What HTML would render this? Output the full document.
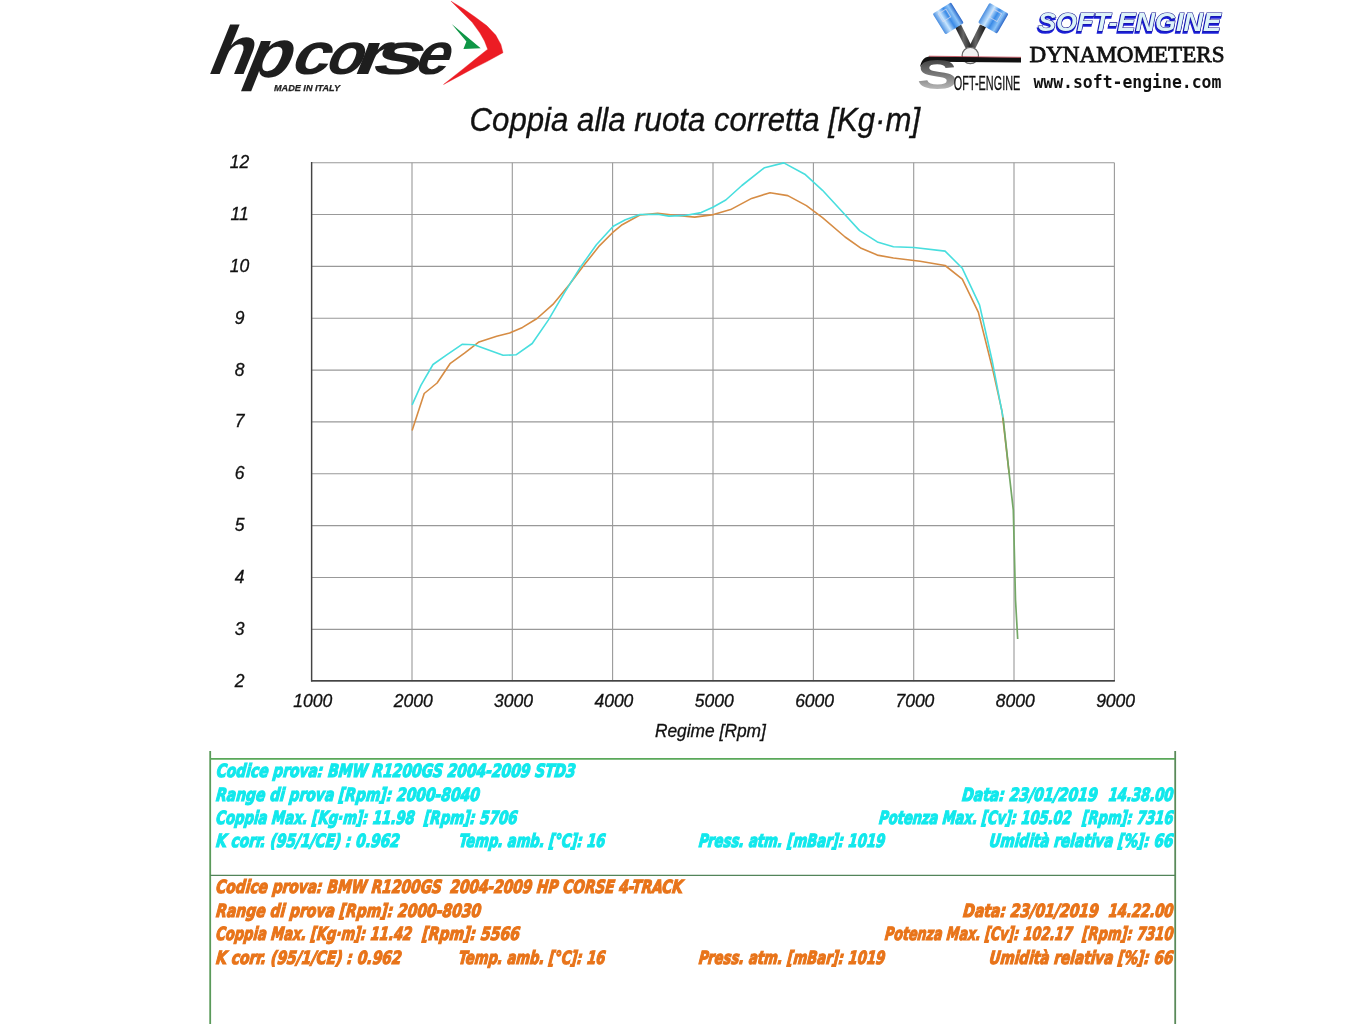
<!DOCTYPE html>
<html><head><meta charset="utf-8">
<style>
html,body{margin:0;padding:0;background:#fff;}
body{width:1365px;height:1024px;overflow:hidden;position:relative;}
svg{position:absolute;left:0;top:0;}
.ax{font-family:"Liberation Sans",Arial,sans-serif;font-style:italic;font-size:17.5px;fill:#111;stroke:#111;stroke-width:0.3px;text-anchor:middle;}
.ib{font-family:"DejaVu Sans",sans-serif;font-stretch:condensed;font-style:italic;font-weight:bold;font-size:18.2px;stroke-width:1.15px;}
.c{fill:#12e8ec;stroke:#12e8ec;}
.o{fill:#e8741a;stroke:#e8741a;}
</style></head>
<body>
<svg width="1365" height="1024" viewBox="0 0 1365 1024">
<defs>
<linearGradient id="pist" x1="0" y1="0" x2="1" y2="0">
<stop offset="0" stop-color="#4a8ee0"/><stop offset="0.3" stop-color="#c8e6ff"/><stop offset="0.55" stop-color="#3a8ae6"/><stop offset="0.8" stop-color="#8cc4f8"/><stop offset="1" stop-color="#2a66c8"/>
</linearGradient>
<linearGradient id="sgrad" x1="0" y1="0" x2="0" y2="1">
<stop offset="0" stop-color="#222"/><stop offset="0.5" stop-color="#777"/><stop offset="1" stop-color="#ddd"/>
</linearGradient>
<linearGradient id="rod" x1="0" y1="0" x2="1" y2="0">
<stop offset="0" stop-color="#111"/><stop offset="0.45" stop-color="#666"/><stop offset="1" stop-color="#111"/>
</linearGradient>
</defs>

<!-- hp corse logo -->
<g id="hpcorse">
<g style="font-family:'Liberation Sans',Arial,sans-serif;font-weight:bold;font-size:62px;fill:#1e1e1e;"><text x="0" y="0" transform="translate(205.2,73.8) skewX(-22) scale(1.127,1.1)">h</text><text x="0" y="0" transform="translate(241.6,76.8) skewX(-22) scale(1.2,1.1)">p</text><text x="0" y="0" transform="translate(288.2,73.8) skewX(-22) scale(1.1,0.95)">c</text><text x="0" y="0" transform="translate(322.4,73.8) skewX(-22) scale(0.976,0.95)">o</text><text x="0" y="0" transform="translate(350.8,73.8) skewX(-22) scale(1.36,0.95)">r</text><text x="0" y="0" transform="translate(368.7,73.8) skewX(-22) scale(1.454,0.95)">s</text><text x="0" y="0" transform="translate(411.8,73.8) skewX(-22) scale(0.983,0.95)">e</text></g>
<text x="274" y="90.8" style="font-family:'Liberation Sans',Arial,sans-serif;font-weight:bold;font-style:italic;font-size:9px;fill:#222;stroke:#222;stroke-width:0.25px;" textLength="66" lengthAdjust="spacingAndGlyphs">MADE IN ITALY</text>
<path d="M451.1,1.2 L463.4,8.8 L475.1,17 L486.9,25.8 L495.7,35.1 L500.9,44.5 L503,52.7 L486.9,61.6 L475.1,67.5 L457.6,76.9 L443.5,84.5 L463.4,68.7 L475.1,59.3 L487.7,49.2 L484.5,41 L479.8,32.8 L472.2,22.3 L463.4,13.5 Z" fill="#ec1c24" stroke="#ec1c24" stroke-width="0.4" stroke-linejoin="round"/>
<path d="M451.7,24 L480.7,48.3 L463.4,48.9 L466.4,41.6 Z" fill="#0f9646"/>
</g>

<!-- soft-engine logo -->
<g id="soft">
<path d="M955,27 L966.5,50 L973.5,50 L961,24.5 Z" fill="url(#rod)"/>
<path d="M986,27 L974.5,50 L967.5,50 L980,24.5 Z" fill="url(#rod)"/>
<g transform="translate(948.2,18.4) rotate(-32)"><rect x="-10.8" y="-12.2" width="21.6" height="24.4" rx="1.5" fill="url(#pist)"/><rect x="-6" y="-9" width="9" height="9" fill="none" stroke="#dde" stroke-width="1" opacity="0.7"/></g>
<g transform="translate(993.3,18.2) rotate(30)"><rect x="-11" y="-11.5" width="22" height="23" rx="1.5" fill="url(#pist)"/><rect x="-4" y="-8" width="9" height="9" fill="none" stroke="#dde" stroke-width="1" opacity="0.7"/></g>
<circle cx="970.3" cy="55.5" r="8.2" fill="#f2f2f2" stroke="#666" stroke-width="1.2"/>
<path d="M929,56.4 L1021,57.6 L1021,62.6 L931,61.8 C926,62 922,64 920,67 C921,61 924,57 929,56.4 Z" fill="#111"/>
<line x1="929" y1="56.2" x2="1021" y2="57.3" stroke="#c03040" stroke-width="0.7"/>
<text x="0" y="0" transform="translate(917,88.6) scale(1.45,1.0)" style="font-family:'Liberation Sans',Arial,sans-serif;font-weight:bold;font-size:42px;fill:url(#sgrad);">S</text>
<text x="953.8" y="89.6" style="font-family:'Liberation Sans',Arial,sans-serif;font-size:20.5px;fill:#111;stroke:#111;stroke-width:0.3px;" textLength="66.5" lengthAdjust="spacingAndGlyphs">OFT-ENGINE</text>
<text x="1037.3" y="33" style="font-family:'Liberation Sans',Arial,sans-serif;font-weight:bold;font-style:italic;font-size:25px;fill:#1a1ed8;stroke:#1a1ed8;stroke-width:1.6px;" textLength="183" lengthAdjust="spacingAndGlyphs">SOFT-ENGINE</text>
<text x="1038" y="31" style="font-family:'Liberation Sans',Arial,sans-serif;font-weight:bold;font-style:italic;font-size:25px;fill:#dcf3f8;stroke:#12128e;stroke-width:1.1px;paint-order:stroke;" textLength="183" lengthAdjust="spacingAndGlyphs">SOFT-ENGINE</text>
<text x="1029.5" y="62.3" style="font-family:'Liberation Serif','Times New Roman',serif;font-size:24px;fill:#111;stroke:#111;stroke-width:0.8px;" textLength="195" lengthAdjust="spacingAndGlyphs">DYNAMOMETERS</text>
<text x="1033.4" y="88" style="font-family:'DejaVu Sans Mono',monospace;font-weight:bold;font-size:17.5px;fill:#111;" textLength="188" lengthAdjust="spacingAndGlyphs">www.soft-engine.com</text>
</g>

<!-- title -->
<text x="469.6" y="130.9" style="font-family:'Liberation Sans',Arial,sans-serif;font-style:italic;font-size:33.3px;fill:#111;stroke:#111;stroke-width:0.35px;" textLength="450.5" lengthAdjust="spacingAndGlyphs">Coppia alla ruota corretta [Kg·m]</text>

<!-- grid -->
<g stroke="#999" stroke-width="1.1" fill="none">
<line x1="311.6" y1="162.7" x2="1114.4" y2="162.7"/>
<line x1="311.6" y1="214.5" x2="1114.4" y2="214.5"/>
<line x1="311.6" y1="266.4" x2="1114.4" y2="266.4"/>
<line x1="311.6" y1="318.2" x2="1114.4" y2="318.2"/>
<line x1="311.6" y1="370.1" x2="1114.4" y2="370.1"/>
<line x1="311.6" y1="421.9" x2="1114.4" y2="421.9"/>
<line x1="311.6" y1="473.8" x2="1114.4" y2="473.8"/>
<line x1="311.6" y1="525.6" x2="1114.4" y2="525.6"/>
<line x1="311.6" y1="577.5" x2="1114.4" y2="577.5"/>
<line x1="311.6" y1="629.4" x2="1114.4" y2="629.4"/>
<line x1="311.6" y1="681.2" x2="1114.4" y2="681.2"/>
<line x1="311.6" y1="162.7" x2="311.6" y2="681.2"/>
<line x1="412.0" y1="162.7" x2="412.0" y2="681.2"/>
<line x1="512.3" y1="162.7" x2="512.3" y2="681.2"/>
<line x1="612.6" y1="162.7" x2="612.6" y2="681.2"/>
<line x1="713.0" y1="162.7" x2="713.0" y2="681.2"/>
<line x1="813.4" y1="162.7" x2="813.4" y2="681.2"/>
<line x1="913.7" y1="162.7" x2="913.7" y2="681.2"/>
<line x1="1014.0" y1="162.7" x2="1014.0" y2="681.2"/>
<line x1="1114.4" y1="162.7" x2="1114.4" y2="681.2"/>
</g>
<line x1="311.6" y1="162" x2="311.6" y2="681.4" stroke="#444" stroke-width="1.4"/>
<line x1="311" y1="680.7" x2="1115" y2="680.7" stroke="#444" stroke-width="1.4"/>

<g class="ax">
<text x="239.6" y="168.2">12</text>
<text x="239.6" y="220.0">11</text>
<text x="239.6" y="271.9">10</text>
<text x="239.6" y="323.8">9</text>
<text x="239.6" y="375.6">8</text>
<text x="239.6" y="427.4">7</text>
<text x="239.6" y="479.3">6</text>
<text x="239.6" y="531.1">5</text>
<text x="239.6" y="583.0">4</text>
<text x="239.6" y="634.9">3</text>
<text x="239.6" y="686.7">2</text>
<text x="312.8" y="707.2">1000</text>
<text x="413.2" y="707.2">2000</text>
<text x="513.5" y="707.2">3000</text>
<text x="613.9" y="707.2">4000</text>
<text x="714.2" y="707.2">5000</text>
<text x="814.6" y="707.2">6000</text>
<text x="914.9" y="707.2">7000</text>
<text x="1015.2" y="707.2">8000</text>
<text x="1115.6" y="707.2">9000</text>
</g>
<text x="654.9" y="736.5" class="ax" style="text-anchor:start" textLength="111" lengthAdjust="spacingAndGlyphs">Regime [Rpm]</text>

<!-- curves -->
<polyline points="412.1,430.5 424.2,393.5 437.1,383.0 450.0,363.7 464.5,353.2 479.0,341.9 496.7,336.3 509.6,333.0 522.5,327.4 537.0,318.5 552.9,304.4 569.0,285.1 583.5,265.8 599.6,245.6 612.5,232.7 622.2,224.7 639.9,215.0 657.7,213.4 677.0,215.5 694.7,217.1 713.5,214.6 730.6,209.6 751.6,198.4 770.1,192.7 787.8,195.6 806.4,205.6 822.5,217.7 845.1,237.0 861.2,248.3 877.3,255.1 893.4,258.0 920.0,261.2 945.1,265.5 962.3,279.1 978.4,312.4 992.4,368.2 1002.0,411.2 1009.2,473.9" fill="none" stroke="#d68c44" stroke-width="1.6" stroke-linejoin="round"/>
<polyline points="412.1,404.8 420.9,385.4 433.0,364.5 446.7,354.8 462.1,344.3 474.1,344.8 488.6,350.0 503.1,355.3 516.0,354.8 532.2,343.5 548.3,320.1 564.2,293.2 580.3,267.4 596.4,244.8 613.3,226.3 625.4,219.8 639.9,214.5 657.7,214.2 668.9,216.1 685.1,215.5 701.2,212.6 712.9,207.2 725.8,200.0 741.9,185.5 764.5,167.7 783.8,162.9 804.8,174.2 822.5,190.3 841.8,211.2 859.6,230.6 877.3,241.9 893.4,246.7 914.0,247.5 945.1,251.1 962.3,268.3 979.5,304.8 992.4,361.8 1003.1,417.6" fill="none" stroke="#48dede" stroke-width="1.6" stroke-linejoin="round"/>
<polyline points="1003.1,417.6 1009.2,473.9 1013.3,509.9 1014.2,545.8 1015.5,599.8 1017.7,639.0" fill="none" stroke="#74a866" stroke-width="1.7" stroke-linejoin="round"/>

<!-- info box -->
<g stroke-width="1.8">
<line x1="210.2" y1="751" x2="210.2" y2="1024" stroke="#5a9a5a"/>
<line x1="1175.2" y1="751" x2="1175.2" y2="1024" stroke="#5a8a5a"/>
<line x1="210" y1="758.9" x2="1175" y2="758.9" stroke="#5aa85a"/>
<line x1="210" y1="875.4" x2="1175" y2="875.4" stroke="#52845a" stroke-width="1.3"/>
</g>

<text class="ib c" transform="translate(216.2,777.3) skewX(-6)" textLength="359.0" lengthAdjust="spacingAndGlyphs">Codice prova: BMW R1200GS 2004-2009 STD3</text>
<text class="ib c" transform="translate(215.7,801.0) skewX(-6)" textLength="263.6" lengthAdjust="spacingAndGlyphs">Range di prova [Rpm]: 2000-8040</text>
<text class="ib c" transform="translate(215.7,824.2) skewX(-6)" textLength="198.6" lengthAdjust="spacingAndGlyphs">Coppia Max. [Kg·m]: 11.98</text>
<text class="ib c" transform="translate(423.7,824.2) skewX(-6)" textLength="93.4" lengthAdjust="spacingAndGlyphs">[Rpm]: 5706</text>
<text class="ib c" transform="translate(215.7,847.4) skewX(-6)" textLength="183.6" lengthAdjust="spacingAndGlyphs">K corr. (95/1/CE) : 0.962</text>
<text class="ib c" transform="translate(458.8,847.4) skewX(-6)" textLength="146.2" lengthAdjust="spacingAndGlyphs">Temp. amb. [°C]: 16</text>
<text class="ib c" transform="translate(698.4,847.4) skewX(-6)" textLength="186.4" lengthAdjust="spacingAndGlyphs">Press. atm. [mBar]: 1019</text>
<text class="ib c" transform="translate(961.7,801.0) skewX(-6)" textLength="135.4" lengthAdjust="spacingAndGlyphs">Data: 23/01/2019</text>
<text class="ib c" transform="translate(1108.2,801.0) skewX(-6)" textLength="64.8" lengthAdjust="spacingAndGlyphs">14.38.00</text>
<text class="ib c" transform="translate(878.8,824.2) skewX(-6)" textLength="192.2" lengthAdjust="spacingAndGlyphs">Potenza Max. [Cv]: 105.02</text>
<text class="ib c" transform="translate(1082.1,824.2) skewX(-6)" textLength="90.9" lengthAdjust="spacingAndGlyphs">[Rpm]: 7316</text>
<text class="ib c" transform="translate(988.9,847.4) skewX(-6)" textLength="184.1" lengthAdjust="spacingAndGlyphs">Umidità relativa [%]: 66</text>
<text class="ib o" transform="translate(215.7,893.2) skewX(-6)" textLength="225.7" lengthAdjust="spacingAndGlyphs">Codice prova: BMW R1200GS</text>
<text class="ib o" transform="translate(450.0,893.2) skewX(-6)" textLength="232.4" lengthAdjust="spacingAndGlyphs">2004-2009 HP CORSE 4-TRACK</text>
<text class="ib o" transform="translate(215.7,917.0) skewX(-6)" textLength="265.1" lengthAdjust="spacingAndGlyphs">Range di prova [Rpm]: 2000-8030</text>
<text class="ib o" transform="translate(215.7,940.4) skewX(-6)" textLength="195.9" lengthAdjust="spacingAndGlyphs">Coppia Max. [Kg·m]: 11.42</text>
<text class="ib o" transform="translate(421.9,940.4) skewX(-6)" textLength="97.6" lengthAdjust="spacingAndGlyphs">[Rpm]: 5566</text>
<text class="ib o" transform="translate(215.7,963.9) skewX(-6)" textLength="185.4" lengthAdjust="spacingAndGlyphs">K corr. (95/1/CE) : 0.962</text>
<text class="ib o" transform="translate(458.2,963.9) skewX(-6)" textLength="146.8" lengthAdjust="spacingAndGlyphs">Temp. amb. [°C]: 16</text>
<text class="ib o" transform="translate(698.4,963.9) skewX(-6)" textLength="186.4" lengthAdjust="spacingAndGlyphs">Press. atm. [mBar]: 1019</text>
<text class="ib o" transform="translate(962.8,917.0) skewX(-6)" textLength="135.5" lengthAdjust="spacingAndGlyphs">Data: 23/01/2019</text>
<text class="ib o" transform="translate(1108.2,917.0) skewX(-6)" textLength="64.8" lengthAdjust="spacingAndGlyphs">14.22.00</text>
<text class="ib o" transform="translate(884.5,940.4) skewX(-6)" textLength="187.6" lengthAdjust="spacingAndGlyphs">Potenza Max. [Cv]: 102.17</text>
<text class="ib o" transform="translate(1082.1,940.4) skewX(-6)" textLength="90.9" lengthAdjust="spacingAndGlyphs">[Rpm]: 7310</text>
<text class="ib o" transform="translate(988.9,963.9) skewX(-6)" textLength="184.1" lengthAdjust="spacingAndGlyphs">Umidità relativa [%]: 66</text>
</svg>
</body></html>
